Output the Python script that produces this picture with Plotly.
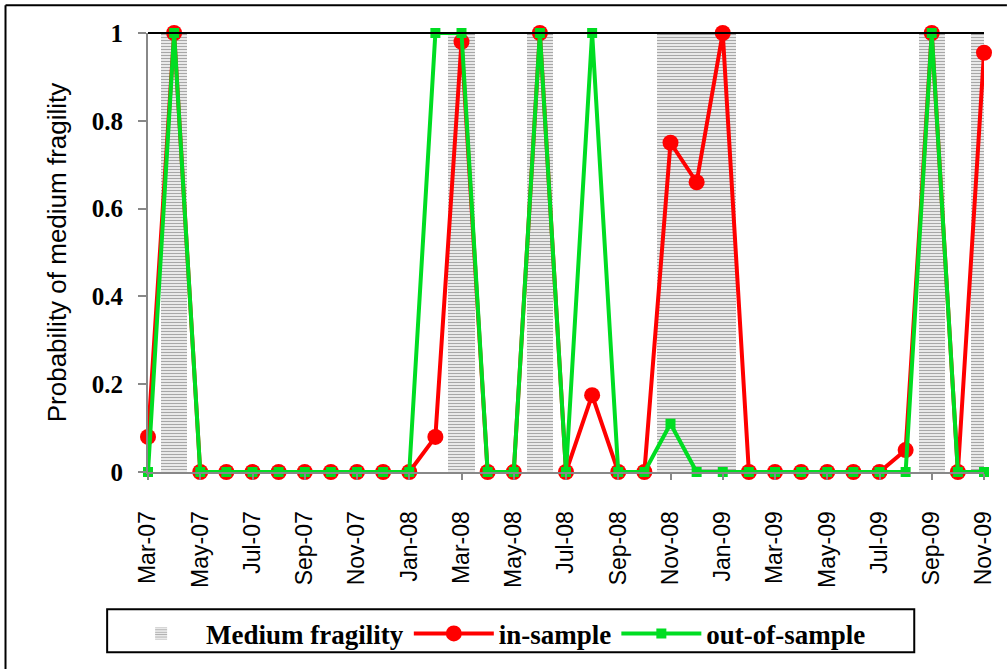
import plotly.graph_objects as go

months = ["Mar-07", "Apr-07", "May-07", "Jun-07", "Jul-07", "Aug-07", "Sep-07", "Oct-07",
          "Nov-07", "Dec-07", "Jan-08", "Feb-08", "Mar-08", "Apr-08", "May-08", "Jun-08",
          "Jul-08", "Aug-08", "Sep-08", "Oct-08", "Nov-08", "Dec-08", "Jan-09", "Feb-09",
          "Mar-09", "Apr-09", "May-09", "Jun-09", "Jul-09", "Aug-09", "Sep-09", "Oct-09",
          "Nov-09"]

medium_fragility = [0, 1, 0, 0, 0, 0, 0, 0, 0, 0, 0, 0, 1, 0, 0, 1,
                    0, 0, 0, 0, 1, 1, 1, 0, 0, 0, 0, 0, 0, 0, 1, 0, 1]

in_sample = [0.08, 1.0, 0, 0, 0, 0, 0, 0, 0, 0, 0, 0.08, 0.98, 0, 0, 1.0,
             0, 0.175, 0, 0, 0.75, 0.66, 1.0, 0, 0, 0, 0, 0, 0, 0.05, 1.0, 0, 0.955]

out_of_sample = [0, 1.0, 0, 0, 0, 0, 0, 0, 0, 0, 0, 1.0, 1.0, 0, 0, 1.0,
                 0, 1.0, 0, 0, 0.11, 0, 0, 0, 0, 0, 0, 0, 0, 0, 1.0, 0, 0]

tick_labels = ["Mar-07", "May-07", "Jul-07", "Sep-07", "Nov-07", "Jan-08", "Mar-08",
               "May-08", "Jul-08", "Sep-08", "Nov-08", "Jan-09", "Mar-09", "May-09",
               "Jul-09", "Sep-09", "Nov-09"]

RED = "#FF0000"
GREEN = "#00DD22"

fig = go.Figure()

fig.add_trace(go.Bar(
    x=months, y=medium_fragility, name="Medium fragility", width=1,
    marker=dict(color="white", line=dict(width=0),
                pattern=dict(shape="-", fgcolor="#505050", bgcolor="white",
                             size=3, solidity=0.5)),
    hoverinfo="skip",
))

fig.add_trace(go.Scatter(
    x=months, y=in_sample, name="in-sample", mode="lines+markers",
    line=dict(color=RED, width=4),
    marker=dict(symbol="circle", size=16, color=RED),
    cliponaxis=False,
))

fig.add_trace(go.Scatter(
    x=months, y=out_of_sample, name="out-of-sample", mode="lines+markers",
    line=dict(color=GREEN, width=4),
    marker=dict(symbol="square", size=10, color=GREEN),
    cliponaxis=False,
))

# figure fills the whole 1008x670 page (body margin removed below)
W, H = 1008, 670
L, T = 148, 33
R = W - 987
B = H - 474
pw, ph = W - L - R, H - T - B

def px_x(p):
    return (p - L) / pw

def px_y(p):
    return (H - B - p) / ph

fig.update_layout(
    width=W, height=H,
    margin=dict(l=L, r=R, t=T, b=B),
    paper_bgcolor="white", plot_bgcolor="white",
    bargap=0,
    showlegend=True,
    legend=dict(
        orientation="h", x=px_x(116), xanchor="left", y=px_y(612), yanchor="top",
        borderwidth=0, bgcolor="rgba(0,0,0,0)",
        font=dict(family="Liberation Serif", size=27, color="black", weight="bold"),
        itemwidth=80,
        traceorder="normal",
    ),
    xaxis=dict(
        type="category", range=[0, len(months) - 1],
        tickmode="array", tickvals=tick_labels, ticktext=tick_labels,
        tickangle=-90, ticks="outside", ticklen=6, tickcolor="#888", tickwidth=2,
        ticklabelstandoff=22,
        showline=True, linecolor="#888", linewidth=2,
        showgrid=False, zeroline=False,
        tickfont=dict(family="Liberation Sans", size=23, color="black"),
    ),
    yaxis=dict(
        range=[0, 1], dtick=0.2, tick0=0,
        ticks="outside", ticklen=8, tickcolor="#888", tickwidth=2,
        ticklabelstandoff=10,
        showline=True, linecolor="#888", linewidth=2,
        showgrid=False, zeroline=False,
        tickfont=dict(family="Liberation Serif", size=25, color="black", weight="bold"),
        title=dict(text="Probability of medium fragility", standoff=18,
                   font=dict(family="Liberation Sans", size=26, color="black")),
    ),
    shapes=[
        # top border of plot area
        dict(type="line", xref="paper", yref="paper", x0=0, x1=1, y0=1, y1=1,
             line=dict(color="black", width=2)),
        # outer chart border (only left and top edges fall inside the picture)
        dict(type="line", xref="paper", yref="paper",
             x0=px_x(5), x1=px_x(5), y0=px_y(672), y1=px_y(5),
             line=dict(color="black", width=2)),
        dict(type="line", xref="paper", yref="paper",
             x0=px_x(5), x1=px_x(1010), y0=px_y(5), y1=px_y(5),
             line=dict(color="black", width=2)),
        # legend box
        dict(type="rect", xref="paper", yref="paper",
             x0=px_x(107), x1=px_x(917), y0=px_y(655), y1=px_y(612),
             line=dict(color="black", width=2), fillcolor="white", layer="below"),
    ],
)

fig.write_html(
    "out.html",
    config={"displayModeBar": False},
    post_script="document.body.style.margin='0px';document.body.style.overflow='hidden';",
)
